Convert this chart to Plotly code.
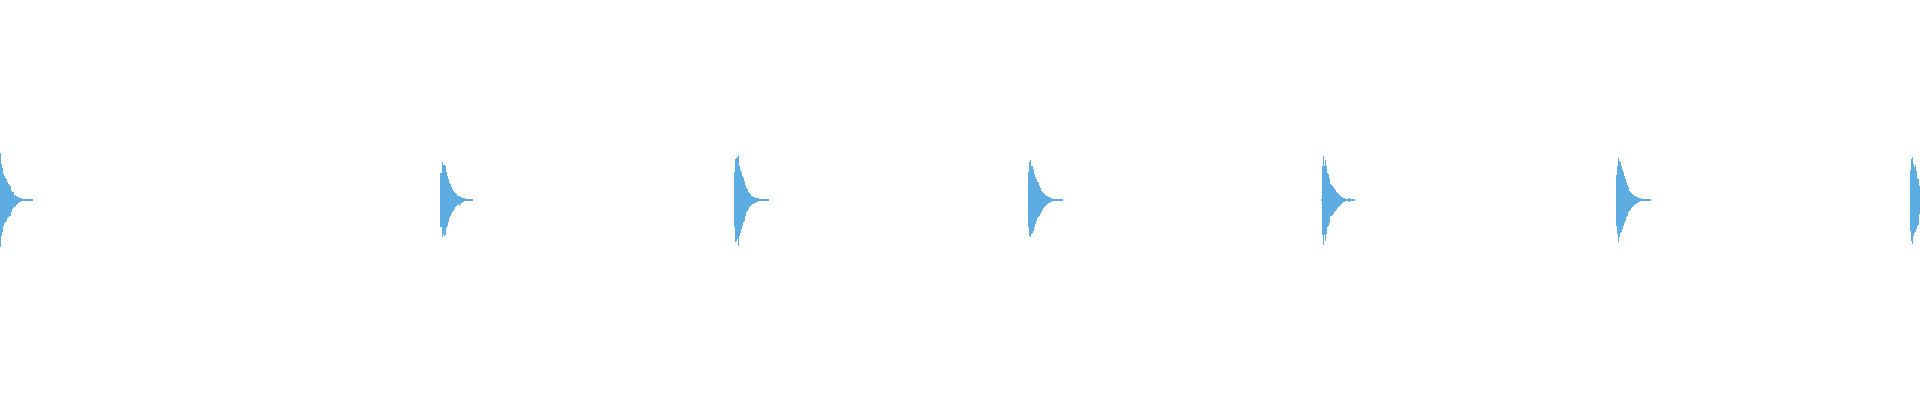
import plotly.graph_objects as go

# waveform envelope of seven clicks, amplitude in % of full scale
# onset of each click (time units along the track)
ONSETS = [0, 440, 734, 1028, 1321, 1616, 1910]

# positive peak per time step, one list per click
PEAK_POS = [
    [23.6, 18.1, 15.9, 13.1, 11.9, 10.9, 10.6, 9.25, 8.1, 7.6, 7.25, 4.75, 4.25, 3.9, 2.25, 2.6,
     1.9, 1.6, 1.4, 1.25, 1.1, 0.9, 0.75, 0.6, 0.4, 0.4, 0.4, 0.4, 0.4, 0.4, 0.4, 0.4, 0.4],
    [13.6, 13.6, 18.9, 17.75, 17.6, 17.25, 13.9, 12.25, 10.6, 8.6, 8.1, 6.4, 5.6, 4.75, 3.9, 3.4,
     3.1, 2.25, 1.9, 2.25, 1.75, 1.4, 1.25, 1.1, 0.9, 0.6, 0.4, 0.4, 0.4, 0.4, 0.4, 0.4, 0.4],
    [13.9, 20.6, 20.9, 21.4, 22.6, 17.25, 15.25, 13.9, 12.25, 10.9, 9.75, 7.6, 5.9, 5.6, 4.25, 3.6,
     2.9, 2.25, 1.9, 1.75, 1.4, 1.25, 1.1, 0.9, 0.9, 0.75, 0.6, 0.4, 0.4, 0.4, 0.4, 0.4, 0.4, 0.4, 0.4],
    [13.9, 18.9, 20.25, 17.25, 16.9, 15.6, 13.1, 11.4, 10.6, 9.25, 8.9, 6.9, 5.9, 4.75, 3.9, 3.6,
     3.1, 2.6, 2.25, 1.9, 1.6, 1.4, 1.1, 0.9, 0.75, 0.6, 0.4, 0.4, 0.4, 0.4, 0.4, 0.4, 0.4, 0.4, 0.4],
    [0.4, 17.25, 22.25, 17.25, 20.25, 16.9, 13.6, 13.1, 10.9, 8.1, 7.6, 7.25, 6.4, 5.6, 5.25, 4.25,
     3.6, 3.1, 2.6, 2.25, 1.75, 1.4, 1.1, 0.9, 0.75, 0.6, 0.4, 0.4, 1.1, 0.4, 0.4, 0.4, 0.4, 0.4],
    [12.6, 16.9, 20.9, 19.75, 18.9, 17.25, 15.25, 14.25, 12.25, 10.6, 9.25, 7.6, 6.4, 4.75, 4.25, 3.6,
     3.1, 2.6, 2.25, 1.9, 1.6, 1.4, 1.25, 1.1, 0.9, 0.75, 0.6, 0.4, 0.4, 0.4, 0.4, 0.4, 0.4, 0.4, 0.4],
    [15.25, 20.6, 21.4, 18.1, 16.4, 17.6, 14.75, 10.9, 10.6, 7.25],
]
# negative peak (magnitude) per time step
PEAK_NEG = [
    [23.6, 18.1, 15.75, 12.75, 11.4, 10.75, 10.25, 9.1, 8.6, 8.1, 7.75, 6.1, 4.4, 4.1, 3.1, 3.6,
     2.4, 1.9, 1.4, 1.1, 0.75, 0.6, 0.4, 0.25, 0.1, 0.1, 0.1, 0.1, 0.1, 0.1, 0.1, 0.1, 0.1],
    [13.25, 13.25, 18.6, 16.9, 17.75, 17.4, 14.1, 12.75, 11.1, 9.1, 7.75, 6.9, 6.1, 5.25, 4.4, 3.6,
     3.1, 2.4, 2.1, 2.75, 1.9, 1.4, 1.1, 0.75, 0.6, 0.25, 0.1, 0.1, 0.1, 0.1, 0.1, 0.1, 0.1],
    [13.6, 21.1, 20.25, 19.4, 22.75, 17.75, 16.4, 14.4, 12.75, 11.1, 10.25, 8.1, 6.1, 5.25, 4.4, 3.6,
     3.1, 2.4, 2.1, 1.9, 1.6, 1.25, 0.9, 0.75, 0.6, 0.4, 0.25, 0.1, 0.1, 0.1, 0.1, 0.1, 0.1, 0.1, 0.1],
    [13.6, 18.1, 18.6, 16.9, 16.4, 15.25, 13.6, 11.9, 10.25, 9.1, 8.6, 7.75, 6.9, 5.75, 4.75, 4.1,
     3.4, 3.1, 2.4, 2.1, 1.6, 1.4, 1.1, 0.75, 0.6, 0.4, 0.1, 0.1, 0.1, 0.1, 0.1, 0.1, 0.1, 0.1, 0.1],
    [0.1, 17.4, 22.4, 17.4, 20.25, 16.9, 13.6, 12.75, 11.4, 8.1, 7.75, 7.4, 6.9, 6.1, 5.4, 4.75,
     4.1, 3.6, 2.75, 2.4, 1.9, 1.4, 1.1, 0.75, 0.6, 0.25, 0.1, 0.1, 0.75, 0.1, 0.1, 0.1, 0.1, 0.1],
    [12.75, 16.9, 21.1, 18.6, 16.4, 15.75, 14.4, 12.75, 11.4, 10.25, 8.6, 7.75, 6.1, 5.25, 4.75, 4.1,
     3.6, 2.75, 2.4, 2.1, 1.75, 1.4, 1.1, 0.9, 0.6, 0.4, 0.25, 0.1, 0.1, 0.1, 0.1, 0.1, 0.1, 0.1, 0.1],
    [15.25, 20.25, 21.9, 17.75, 16.4, 15.75, 14.4, 12.75, 12.4, 6.9],
]

WAVE = "#5dade2"

xs, heights, bases = [], [], []
for t0, pos, neg in zip(ONSETS, PEAK_POS, PEAK_NEG):
    for i, (p, n) in enumerate(zip(pos, neg)):
        xs.append(t0 + i + 0.5)
        heights.append(p + n)
        bases.append(-n)

fig = go.Figure(go.Bar(x=xs, y=heights, base=bases, width=1,
                       marker=dict(color=WAVE, line_width=0),
                       hovertemplate="t=%{x}<extra></extra>"))
fig.update_xaxes(range=[0, 1920], visible=False, showgrid=False, zeroline=False)
fig.update_yaxes(range=[-100, 100], visible=False, showgrid=False, zeroline=False)
fig.update_layout(width=1920, height=400, margin=dict(l=0, r=0, t=0, b=0),
                  plot_bgcolor="white", paper_bgcolor="white", showlegend=False,
                  bargap=0)
# drop the browser's default body margin so the track sits flush with the window
fig.write_html("out.html", config={"displayModeBar": False},
               post_script="document.body.style.margin='0';")
